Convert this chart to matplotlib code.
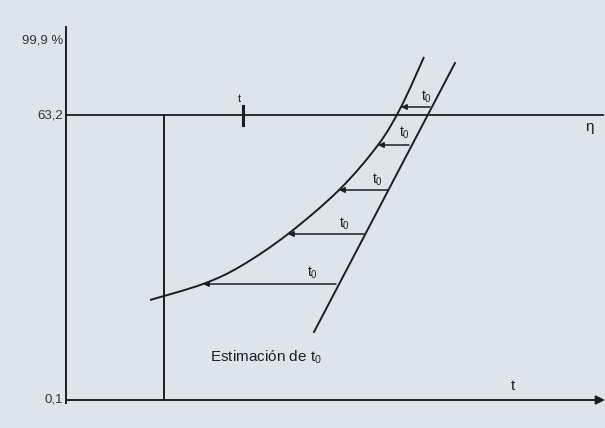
import matplotlib.pyplot as plt
from matplotlib.path import Path
from matplotlib.patches import PathPatch

plt.rcParams['font.family'] = ['Liberation Sans', 'DejaVu Sans']
plt.rcParams['mathtext.fontset'] = 'custom'
plt.rcParams['mathtext.rm'] = 'Liberation Sans'
plt.rcParams['mathtext.it'] = 'Liberation Sans:italic'

# diagram coordinates (image-like units, y grows downwards)
curve_x = [150, 203, 241, 288, 339, 378, 401, 424]
curve_y = [300, 284, 266, 234, 190, 145, 107, 57]

line_x = [314, 455]
line_y = [332, 63]

arrow_y = [284, 234, 190, 145, 107]
arrow_tip = [203, 288, 339, 378, 401]
arrow_tail = [336, 364, 388, 409, 430]
t0_x = [313, 345, 378, 405, 427]
t0_y = [273, 224, 180, 133, 97]

y_ticks = [40, 115, 400]
y_labels = ['99,9 %', '63,2', '0,1']

axis_x = 66
axis_top, axis_bottom = 27, 403
base_y = 400
eta_y = 115
t_line_x = 164
mark_x = 243

bg = '#dde5ec'
ink = '#1e1e1e'


def smooth_path(xs, ys):
    # Catmull-Rom through the read points, drawn as cubic Bezier segments
    pts = list(zip(xs, ys))
    verts = [pts[0]]
    codes = [Path.MOVETO]
    for i in range(len(pts) - 1):
        p0 = pts[i - 1] if i > 0 else pts[i]
        p1, p2 = pts[i], pts[i + 1]
        p3 = pts[i + 2] if i + 2 < len(pts) else pts[i + 1]
        c1 = (p1[0] + (p2[0] - p0[0]) / 6, p1[1] + (p2[1] - p0[1]) / 6)
        c2 = (p2[0] - (p3[0] - p1[0]) / 6, p2[1] - (p3[1] - p1[1]) / 6)
        verts += [c1, c2, p2]
        codes += [Path.CURVE4] * 3
    return Path(verts, codes)


fig = plt.figure(figsize=(6.05, 4.28), dpi=100, facecolor=bg)
ax = fig.add_axes([0, 0, 1, 1])
ax.set_facecolor(bg)
ax.set_xlim(0, 605)
ax.set_ylim(428, 0)
ax.axis('off')

# axes
ax.plot([axis_x, axis_x], [axis_top, axis_bottom], color=ink, lw=1.4)
ax.annotate('', xy=(605, base_y), xytext=(axis_x, base_y),
            arrowprops=dict(arrowstyle='-|>', color=ink, lw=1.4, mutation_scale=13,
                            shrinkA=0, shrinkB=0))
for y, lab in zip(y_ticks, y_labels):
    ax.text(axis_x - 3, y, lab, ha='right', va='center', fontsize=9.5, color='#333333')

# 63,2 % line and eta
ax.plot([axis_x, 603], [eta_y, eta_y], color=ink, lw=1.3)
ax.text(590, 127, 'η', ha='center', va='center', fontsize=11, color=ink)
ax.plot([t_line_x, t_line_x], [eta_y, base_y], color=ink, lw=1.4)
ax.plot([mark_x, mark_x], [106, 125], color=ink, lw=2.2)
ax.text(mark_x - 4, 99, 't', ha='center', va='center', fontsize=8, color=ink)
ax.text(513, 386, 't', ha='center', va='center', fontsize=11, color=ink)

# curve and straight line
ax.add_patch(PathPatch(smooth_path(curve_x, curve_y), facecolor='none', edgecolor=ink, lw=1.4))
ax.plot(line_x, line_y, color=ink, lw=1.4)

# t0 arrows
for y, tip, tail, lx, ly in zip(arrow_y, arrow_tip, arrow_tail, t0_x, t0_y):
    ax.annotate('', xy=(tip, y), xytext=(tail, y),
                arrowprops=dict(arrowstyle='-|>', color=ink, lw=1.1, mutation_scale=8,
                                shrinkA=0, shrinkB=0))
    ax.text(lx, ly, r'$\mathrm{t}_0$', ha='center', va='center', fontsize=10, color=ink)

ax.text(210, 357, r'Estimación de $\mathrm{t}_0$', ha='left', va='center', fontsize=11, color=ink)

fig.savefig('out.png', dpi=100, facecolor=bg)
